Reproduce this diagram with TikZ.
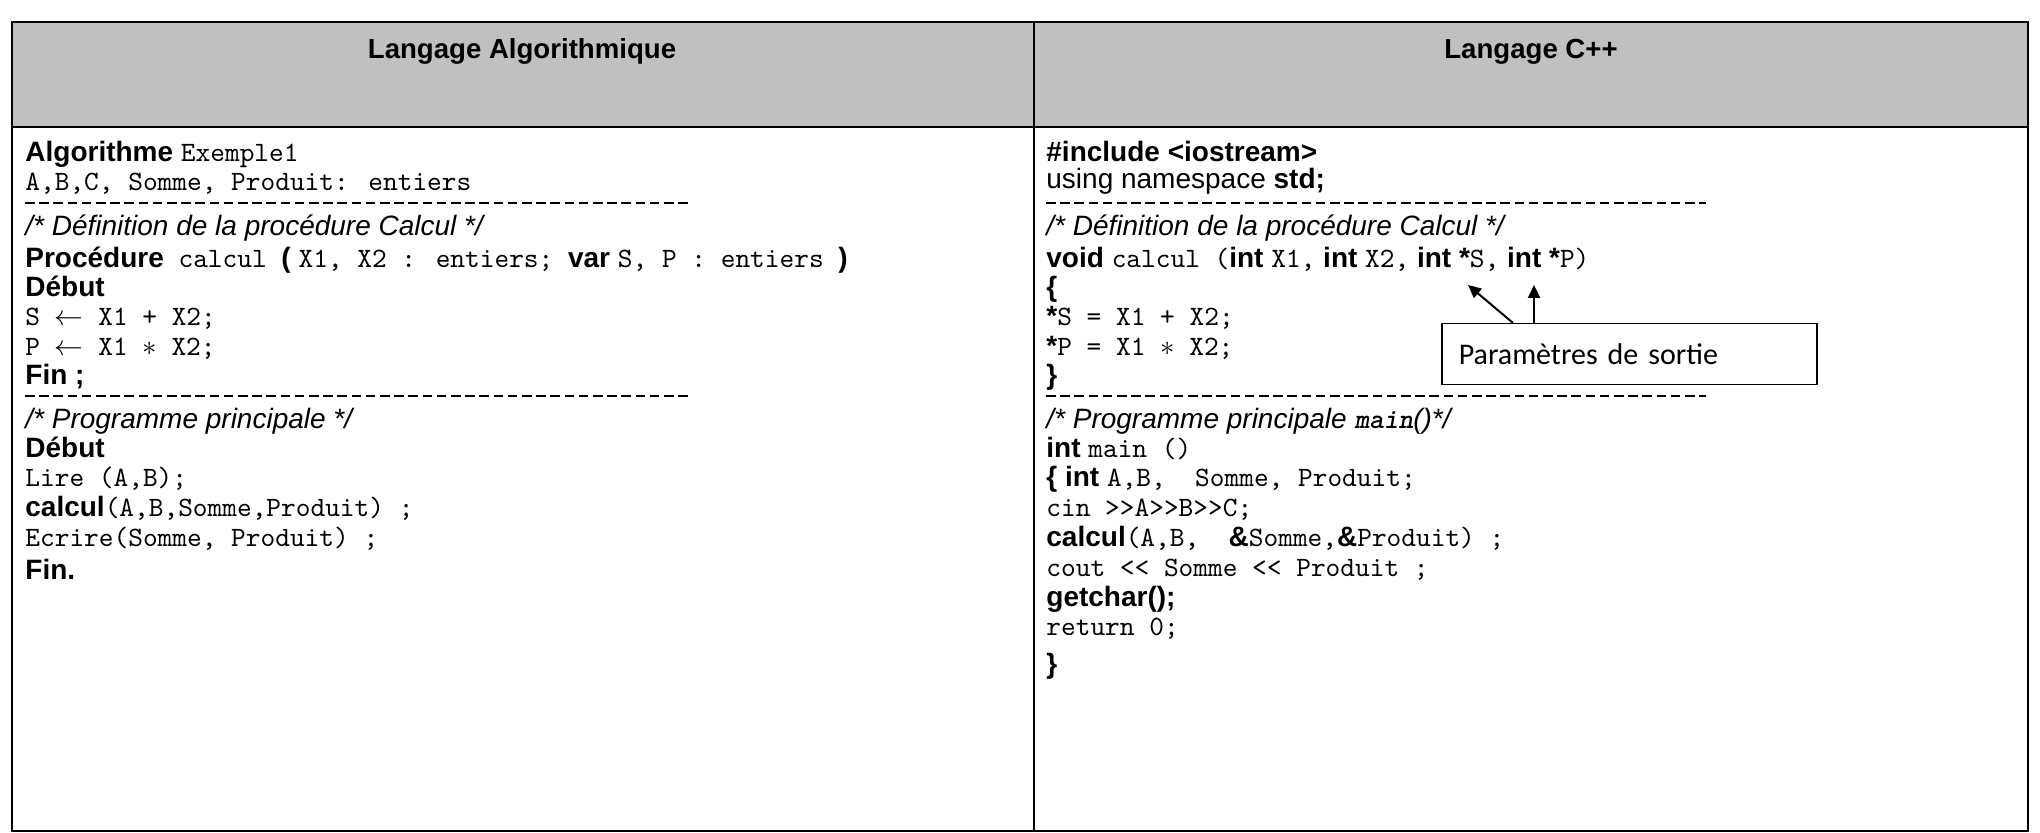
\documentclass[tikz,border=0pt]{standalone}
\usepackage{fontspec}
\setmainfont{Liberation Sans}
\newfontfamily\codefnt{lmmono10-regular.otf}
\newfontfamily\codebi{lmmonolt10-boldoblique.otf}
\newfontfamily\calib{Carlito}
\usetikzlibrary{arrows.meta,calc}
\definecolor{hdrgray}{HTML}{C0C0C0}
\tikzset{
  txt/.style={anchor=base west, inner sep=0pt, font=\fontsize{14}{16}\selectfont},
  hdr/.style={anchor=base, inner sep=0pt, font=\fontsize{13.8}{16}\selectfont\bfseries},
  sepline/.style={line width=0.6pt, dash pattern=on 4.8pt off 2.3pt},
  border/.style={line width=1pt},
  note/.style={draw, line width=0.75pt, anchor=north west, align=left,
    text width=170.5pt, inner xsep=8.5pt, minimum height=30.5pt,
    font=\fontsize{15}{18}\selectfont\calib},
  pointer/.style={line width=1pt, -{Triangle[length=6.5pt,width=6pt]}}
}
\begin{document}
\begin{tikzpicture}[x=0.5pt,y=-0.5pt]
\useasboundingbox (0,0) rectangle (2040,833);
% table
\fill[hdrgray] (12,22) rectangle (2028,127);
\draw[border] (12,22) rectangle (2028,831);
\draw[border] (12,127) -- (2028,127);
\draw[border] (1034,22) -- (1034,831);
% headers
\node[hdr] (hA) at (522,59) {Langage Algorithmique};
\node[hdr] (hC) at (1531,59) {Langage C++};
% left column
\node[txt] (l0) at (25,162) {\textbf{Algorithme} {\codefnt Exemple1}};
\node[txt] (l1) at (25,191) {\codefnt A,B,C, Somme, Produit: entiers};
\draw[sepline] (25,203) -- (690,203);
\node[txt] (l3) at (25,236) {\textit{/* Définition de la procédure Calcul */}};
\node[txt] (l4) at (25,268) {\textbf{Procédure}{\codefnt\ calcul\ }\textbf{(} {\codefnt X1, X2 : entiers;\ }\textbf{var} {\codefnt S, P : entiers\ }\textbf{)}};
\node[txt] (l5) at (25,297) {\textbf{Début}};
\node[txt] (l6) at (25,326) {\codefnt S $\leftarrow$ X1 + X2;};
\node[txt] (l7) at (25,356) {\codefnt P $\leftarrow$ X1 $\ast$ X2;};
\node[txt] (l8) at (25,385) {\textbf{Fin ;}};
\draw[sepline] (25,396) -- (690,396);
\node[txt] (l10) at (25,429) {\textit{/* Programme principale */}};
\node[txt] (l11) at (25,458) {\textbf{Début}};
\node[txt] (l12) at (25,487) {\codefnt Lire (A,B);};
\node[txt] (l13) at (25,517) {\textbf{calcul}{\codefnt (A,B,Somme,Produit) ;}};
\node[txt] (l14) at (25,547) {\codefnt Ecrire(Somme, Produit) ;};
\node[txt] (l15) at (25,580) {\textbf{Fin.}};
% right column
\node[txt] (r0) at (1046,162) {\textbf{\#include <iostream>}};
\node[txt] (r1) at (1046,189) {using namespace \textbf{std;}};
\draw[sepline] (1046,203) -- (1706,203);
\node[txt] (r3) at (1046,236) {\textit{/* Définition de la procédure Calcul */}};
\node[txt] (r4) at (1046,268) {\textbf{void} {\codefnt calcul (}\textbf{int} {\codefnt X1,} \textbf{int} {\codefnt X2,} \textbf{int *}{\codefnt S,} \textbf{int *}{\codefnt P)}};
\node[txt] (r5) at (1046,297) {\textbf{\{}};
\node[txt] (r6) at (1046,326) {\textbf{*}{\codefnt S = X1 + X2;}};
\node[txt] (r7) at (1046,356) {\textbf{*}{\codefnt P = X1 $\ast$ X2;}};
\node[txt] (r8) at (1046,385) {\textbf{\}}};
\draw[sepline] (1046,396) -- (1706,396);
\node[txt] (r10) at (1046,429) {\textit{/* Programme principale }{\codebi main}\textit{()*/}};
\node[txt] (r11) at (1046,458) {\textbf{int} {\codefnt main ()}};
\node[txt] (r12) at (1046,487) {\textbf{\{ int} {\codefnt A,B,\ \ Somme, Produit;}};
\node[txt] (r13) at (1046,517) {\codefnt cin {>}{>}A{>}{>}B{>}{>}C;};
\node[txt] (r14) at (1046,547) {\textbf{calcul}{\codefnt (A,B,\ \ }\textbf{\&}{\codefnt Somme,}\textbf{\&}{\codefnt Produit) ;}};
\node[txt] (r15) at (1046,577) {\codefnt cout {<}{<} Somme {<}{<} Produit ;};
\node[txt] (r16) at (1046,607) {\textbf{getchar();}};
\node[txt] (r17) at (1046,636) {\codefnt return 0;};
\node[txt] (r18) at (1046,674) {\textbf{\}}};
% note box and arrows
\node[note] (box) at (1441,323) {Paramètres de sortie};
\coordinate (tipS) at (1468,285);
\coordinate (tipP) at (1534,285);
\draw[pointer] ($(box.north west)+(72,0)$) -- (tipS);
\draw[pointer] ($(box.north west)+(93,0)$) -- (tipP);
\end{tikzpicture}
\end{document}
